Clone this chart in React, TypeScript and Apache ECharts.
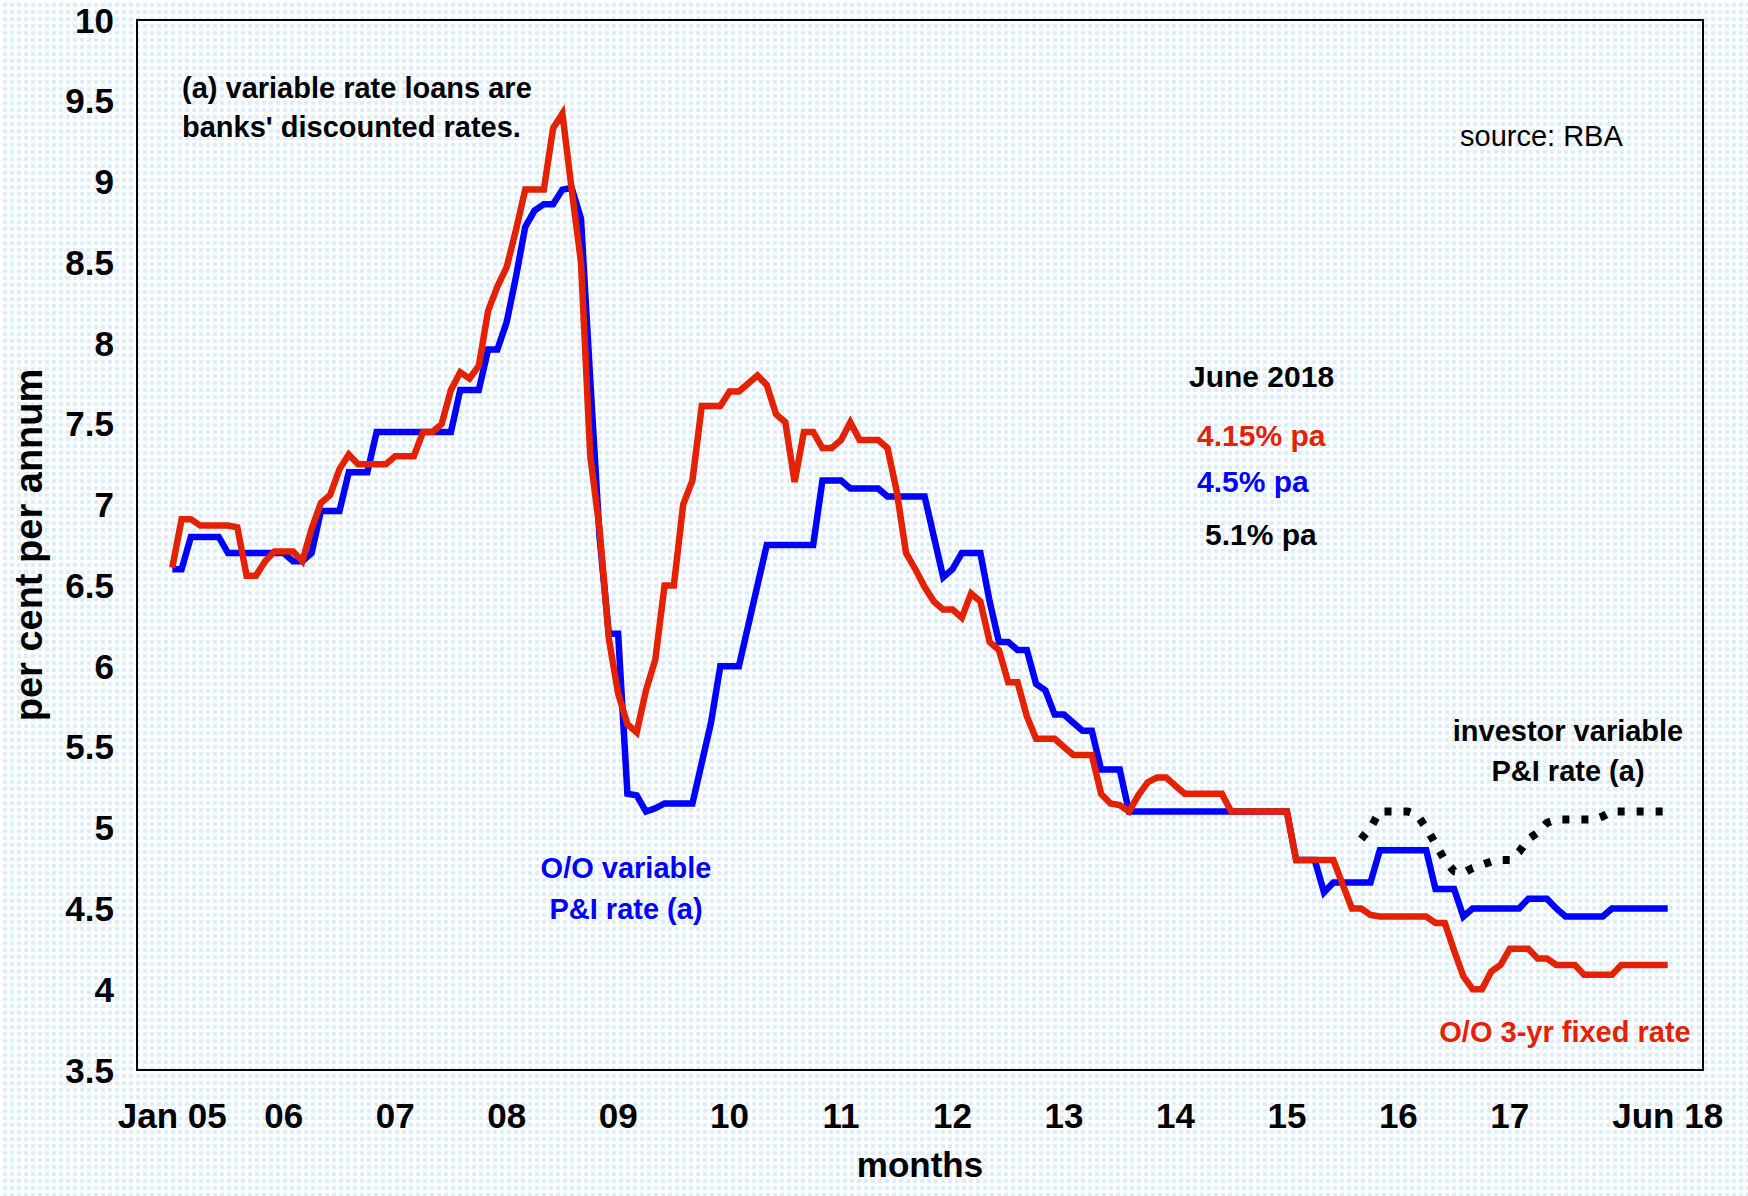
import React, { useEffect, useRef } from "react";
import * as echarts from "echarts";

// month index 0 = Jan 2005, 161 = Jun 2018
const tickMonths = [0, 12, 24, 36, 48, 60, 72, 84, 96, 108, 120, 132, 144, 156, 161];
const tickLabels = ["Jan 05", "06", "07", "08", "09", "10", "11", "12", "13", "14", "15", "16", "17", "", "Jun 18"];

// O/O variable P&I rate (a), monthly Jan 05 - Jun 18
const ooVariable = [
  6.60, 6.60, 6.80, 6.80, 6.80, 6.80, 6.70, 6.70, 6.70, 6.70, 6.70, 6.70,
  6.70, 6.65, 6.65, 6.70, 6.96, 6.96, 6.96, 7.20, 7.20, 7.20, 7.45, 7.45,
  7.45, 7.45, 7.45, 7.45, 7.45, 7.45, 7.45, 7.71, 7.71, 7.71, 7.96, 7.96,
  8.13, 8.41, 8.72, 8.82, 8.86, 8.86, 8.95, 8.96, 8.77, 7.77, 6.80, 6.20,
  6.20, 5.21, 5.20, 5.10, 5.12, 5.15, 5.15, 5.15, 5.15, 5.40, 5.65, 6.00,
  6.00, 6.00, 6.25, 6.50, 6.75, 6.75, 6.75, 6.75, 6.75, 6.75, 7.15, 7.15,
  7.15, 7.10, 7.10, 7.10, 7.10, 7.05, 7.05, 7.05, 7.05, 7.05, 6.80, 6.55,
  6.60, 6.70, 6.70, 6.70, 6.40, 6.15, 6.15, 6.10, 6.10, 5.89, 5.85, 5.70,
  5.70, 5.65, 5.60, 5.60, 5.36, 5.36, 5.36, 5.10, 5.10, 5.10, 5.10, 5.10,
  5.10, 5.10, 5.10, 5.10, 5.10, 5.10, 5.10, 5.10, 5.10, 5.10, 5.10, 5.10,
  5.10, 4.80, 4.80, 4.80, 4.60, 4.66, 4.66, 4.66, 4.66, 4.66, 4.86, 4.86,
  4.86, 4.86, 4.86, 4.86, 4.62, 4.62, 4.62, 4.45, 4.50, 4.50, 4.50, 4.50,
  4.50, 4.50, 4.56, 4.56, 4.56, 4.50, 4.45, 4.45, 4.45, 4.45, 4.45, 4.50,
  4.50, 4.50, 4.50, 4.50, 4.50, 4.50,
];

// O/O 3-yr fixed rate, monthly Jan 05 - Jun 18
const ooFixed = [
  6.61, 6.91, 6.91, 6.87, 6.87, 6.87, 6.87, 6.86, 6.56, 6.56, 6.65, 6.71,
  6.71, 6.71, 6.65, 6.85, 7.01, 7.06, 7.22, 7.31, 7.25, 7.25, 7.25, 7.25,
  7.30, 7.30, 7.30, 7.45, 7.45, 7.50, 7.71, 7.82, 7.78, 7.86, 8.20, 8.35,
  8.47, 8.70, 8.95, 8.95, 8.95, 9.33, 9.42, 8.95, 8.50, 7.30, 6.85, 6.17,
  5.83, 5.64, 5.59, 5.85, 6.04, 6.50, 6.50, 7.00, 7.15, 7.61, 7.61, 7.61,
  7.70, 7.70, 7.75, 7.80, 7.74, 7.56, 7.51, 7.14, 7.45, 7.45, 7.35, 7.35,
  7.40, 7.51, 7.40, 7.40, 7.40, 7.35, 7.08, 6.70, 6.60, 6.49, 6.40, 6.35,
  6.35, 6.30, 6.45, 6.40, 6.15, 6.10, 5.90, 5.90, 5.69, 5.55, 5.55, 5.55,
  5.50, 5.45, 5.45, 5.45, 5.21, 5.15, 5.14, 5.10, 5.20, 5.28, 5.31, 5.31,
  5.26, 5.21, 5.21, 5.21, 5.21, 5.21, 5.10, 5.10, 5.10, 5.10, 5.10, 5.10,
  5.10, 4.80, 4.80, 4.80, 4.80, 4.80, 4.65, 4.50, 4.50, 4.46, 4.45, 4.45,
  4.45, 4.45, 4.45, 4.45, 4.41, 4.41, 4.24, 4.08, 4.00, 4.00, 4.11, 4.15,
  4.25, 4.25, 4.25, 4.19, 4.19, 4.15, 4.15, 4.15, 4.09, 4.09, 4.09, 4.09,
  4.15, 4.15, 4.15, 4.15, 4.15, 4.15,
];

// investor variable P&I rate (a), monthly from Sep 15 (month 128) to Jun 18
const investorStartMonth = 128;
const investorVariable = [
  4.93, 5.00, 5.10, 5.10, 5.10, 5.10, 5.08, 5.00, 4.90, 4.80, 4.73, 4.72,
  4.75, 4.77, 4.79, 4.80, 4.80, 4.85, 4.93, 4.97, 5.03, 5.05, 5.05, 5.05,
  5.05, 5.05, 5.07, 5.10, 5.10, 5.10, 5.10, 5.10, 5.10, 5.10,
];

const FONT = '"Liberation Sans", Arial, Helvetica, sans-serif';
const RED = "#e42100";
const BLUE = "#0000ff";

export default function App() {
  const ref = useRef<HTMLDivElement>(null);

  useEffect(() => {
    if (!ref.current) return;
    const chart = echarts.init(ref.current, undefined, { renderer: "svg" });

    const txt = (
      text: string,
      x: number,
      y: number,
      fill: string,
      opts: any = {}
    ) => ({
      type: "text",
      x,
      y,
      z: 100,
      style: {
        text,
        fill,
        fontFamily: FONT,
        fontSize: opts.fontSize ?? 29,
        fontWeight: opts.fontWeight ?? "bold",
        textAlign: opts.align ?? "left",
        textVerticalAlign: "middle",
        lineHeight: opts.lineHeight ?? 39,
      },
    });

    const option: any = {
      animation: false,
      backgroundColor: "transparent",
      grid: {
        left: 137,
        right: 45,
        top: 20,
        bottom: 126,
        show: true,
        borderColor: "#000",
        borderWidth: 2,
        backgroundColor: "transparent",
      },
      xAxis: {
        type: "value",
        min: -3.8,
        max: 164.8,
        axisLine: { show: false },
        axisTick: { show: false },
        splitLine: { show: false },
        axisLabel: {
          customValues: tickMonths,
          formatter: (v: number) => {
            const i = tickMonths.indexOf(Math.round(v));
            return i >= 0 ? tickLabels[i] : "";
          },
          fontSize: 35,
          fontWeight: "bold",
          fontFamily: FONT,
          color: "#000",
          margin: 28,
        },
        name: "months",
        nameLocation: "middle",
        nameGap: 77,
        nameTextStyle: {
          fontSize: 35,
          fontWeight: "bold",
          fontFamily: FONT,
          color: "#000",
        },
      },
      yAxis: {
        type: "value",
        min: 3.5,
        max: 10,
        interval: 0.5,
        axisLine: { show: false },
        axisTick: { show: false },
        splitLine: { show: false },
        axisLabel: {
          fontSize: 35,
          fontWeight: "bold",
          fontFamily: FONT,
          color: "#000",
          margin: 23,
        },
        name: "per cent per annum",
        nameLocation: "middle",
        nameRotate: 90,
        nameGap: 89,
        nameTextStyle: {
          fontSize: 38,
          fontWeight: "bold",
          fontFamily: FONT,
          color: "#000",
        },
      },
      series: [
        {
          type: "line",
          name: "O/O variable P&I rate (a)",
          data: ooVariable.map((v, i) => [i, v]),
          symbol: "none",
          color: BLUE,
          lineStyle: { color: BLUE, width: 6.5, join: "miter" },
          z: 2,
        },
        {
          type: "line",
          name: "O/O 3-yr fixed rate",
          data: ooFixed.map((v, i) => [i, v]),
          symbol: "none",
          color: RED,
          lineStyle: { color: RED, width: 6.5, join: "miter" },
          z: 3,
        },
        {
          type: "line",
          name: "investor variable P&I rate (a)",
          data: investorVariable.map((v, i) => [investorStartMonth + i, v]),
          symbol: "none",
          color: "#000",
          lineStyle: { color: "#000", width: 8, type: [7, 12], cap: "butt" },
          z: 4,
        },
      ],
      graphic: [
        txt("(a) variable rate loans are\nbanks' discounted rates.", 182, 107, "#000"),
        txt("source: RBA", 1460, 136, "#000", { fontWeight: "normal" }),
        txt("June 2018", 1189, 376, "#000", { fontSize: 30 }),
        txt("4.15% pa", 1197, 435, RED, { fontSize: 30 }),
        txt("4.5% pa", 1197, 481, BLUE, { fontSize: 30 }),
        txt("5.1% pa", 1205, 534, "#000", { fontSize: 30 }),
        txt("O/O variable\nP&I rate (a)", 626, 888, BLUE, { align: "center", lineHeight: 41 }),
        txt("investor variable\nP&I rate (a)", 1568, 751, "#000", { align: "center", lineHeight: 40 }),
        txt("O/O 3-yr fixed rate", 1565, 1032, RED, { align: "center" }),
      ],
    };

    chart.setOption(option);
    return () => chart.dispose();
  }, []);

  return (
    <div
      style={{
        position: "absolute",
        left: 0,
        top: 0,
        width: 1748,
        height: 1196,
        backgroundColor: "#ffffff",
        backgroundImage:
          "linear-gradient(90deg, #ffffff 3px, transparent 3px), linear-gradient(180deg, #ffffff 3px, #dcedfd 3px)",
        backgroundSize: "7px 7px",
      }}
    >
      <div ref={ref} style={{ width: 1748, height: 1196 }} />
    </div>
  );
}
